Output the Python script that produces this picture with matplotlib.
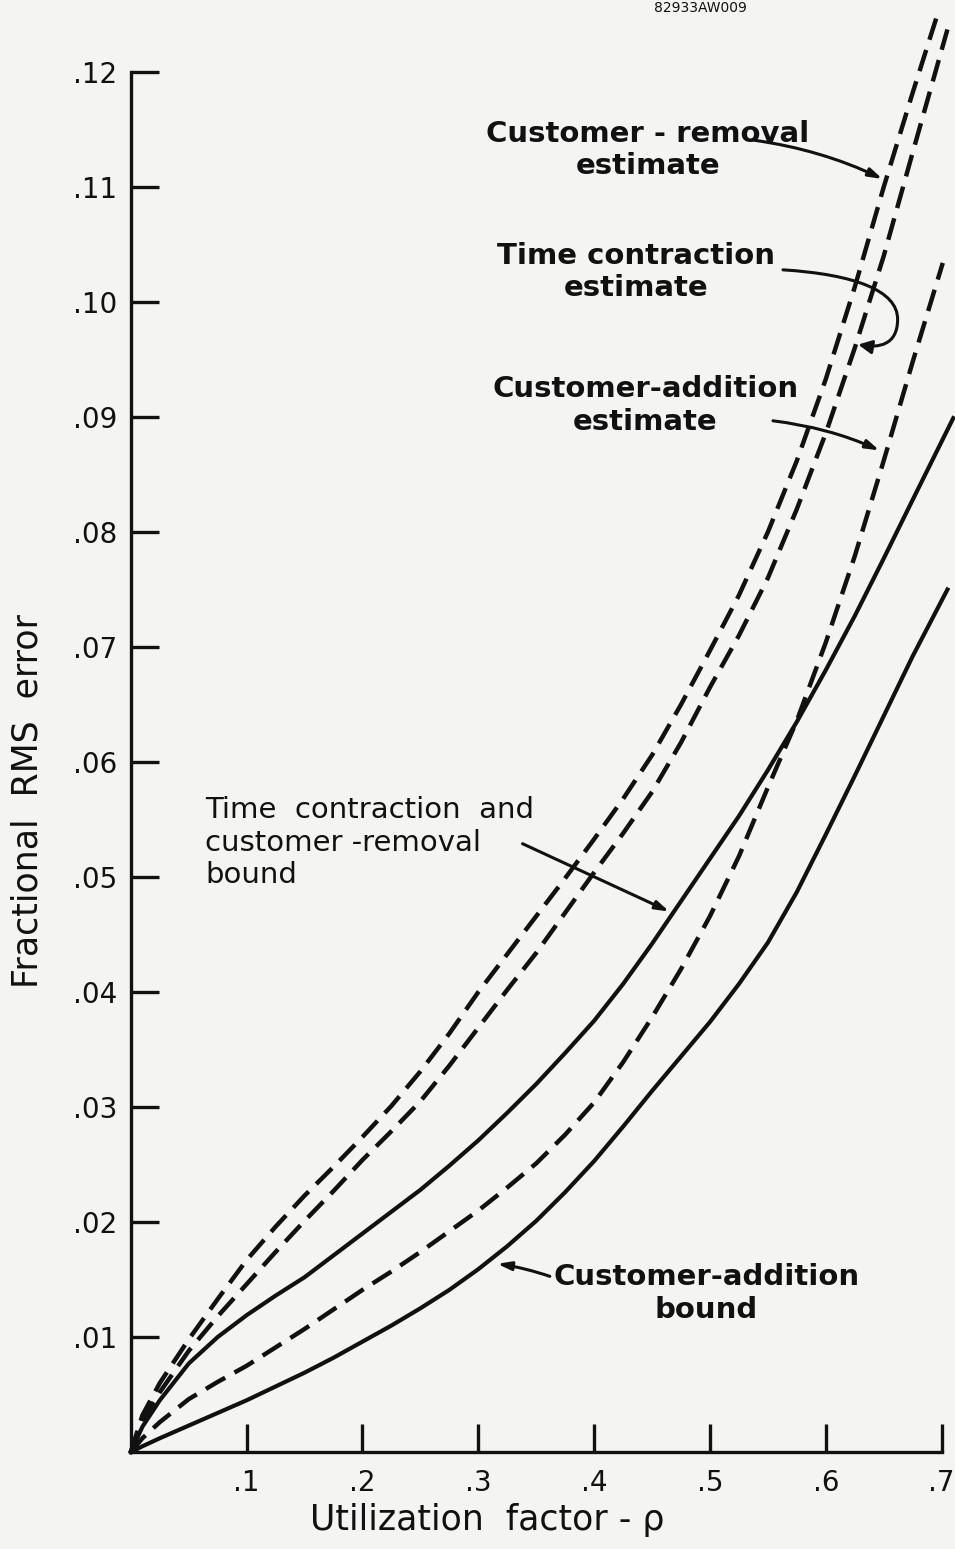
import matplotlib
matplotlib.use("Agg")
import matplotlib.pyplot as plt
from matplotlib.path import Path
from matplotlib.patches import FancyArrowPatch

plt.rcParams['font.family'] = ['DejaVu Sans']

# ---- data ----
# Customer-removal estimate (dashed)
cre_x = [0, 0.01, 0.025, 0.05, 0.075, 0.1, 0.125, 0.15, 0.175, 0.2, 0.225, 0.25, 0.275, 0.3, 0.325,
         0.35, 0.375, 0.4, 0.425, 0.45, 0.475, 0.5, 0.525, 0.55, 0.575, 0.6, 0.625, 0.65, 0.675, 0.697]
cre_y = [0, 0.0032, 0.0060, 0.0098, 0.0133, 0.0167, 0.0196, 0.0223, 0.0248, 0.0274, 0.0301, 0.0331,
         0.0364, 0.0400, 0.0433, 0.0466, 0.0499, 0.0533, 0.0568, 0.0606, 0.0650, 0.0697, 0.0745, 0.0800,
         0.0862, 0.0933, 0.1013, 0.1100, 0.1182, 0.1252]

# Time contraction estimate (dashed)
tce_x = [0, 0.01, 0.025, 0.05, 0.075, 0.1, 0.125, 0.15, 0.175, 0.2, 0.225, 0.25, 0.275, 0.3, 0.325,
         0.35, 0.375, 0.4, 0.425, 0.45, 0.475, 0.5, 0.525, 0.55, 0.575, 0.6, 0.625, 0.65, 0.675, 0.705]
tce_y = [0, 0.0027, 0.0052, 0.0088, 0.0118, 0.0146, 0.0174, 0.0201, 0.0227, 0.0254, 0.0279, 0.0305,
         0.0336, 0.0369, 0.0402, 0.0434, 0.0469, 0.0504, 0.0538, 0.0574, 0.0617, 0.0665, 0.0710, 0.0760,
         0.0820, 0.0886, 0.0960, 0.1040, 0.1130, 0.1237]

# Customer-addition estimate (dashed)
cae_x = [0, 0.01, 0.025, 0.05, 0.075, 0.1, 0.125, 0.15, 0.175, 0.2, 0.225, 0.25, 0.275, 0.3, 0.325,
         0.35, 0.375, 0.4, 0.425, 0.45, 0.475, 0.5, 0.525, 0.55, 0.575, 0.6, 0.625, 0.65, 0.675, 0.701]
cae_y = [0, 0.0012, 0.0026, 0.0046, 0.0061, 0.0075, 0.0091, 0.0107, 0.0124, 0.0141, 0.0157, 0.0174,
         0.0192, 0.0210, 0.0230, 0.0251, 0.0276, 0.0304, 0.0339, 0.0378, 0.0420, 0.0466, 0.0518, 0.0578,
         0.0636, 0.0704, 0.0779, 0.0862, 0.0948, 0.1034]

# Time contraction and customer-removal bound (solid)
tcb_x = [0, 0.01, 0.025, 0.05, 0.075, 0.1, 0.125, 0.15, 0.175, 0.2, 0.225, 0.25, 0.275, 0.3, 0.325,
         0.35, 0.375, 0.4, 0.425, 0.45, 0.475, 0.5, 0.525, 0.55, 0.575, 0.6, 0.625, 0.65, 0.675, 0.71]
tcb_y = [0, 0.0022, 0.0045, 0.0077, 0.0100, 0.0119, 0.0136, 0.0152, 0.0171, 0.0190, 0.0209, 0.0228,
         0.0249, 0.0271, 0.0295, 0.0320, 0.0347, 0.0375, 0.0407, 0.0442, 0.0479, 0.0516, 0.0553, 0.0593,
         0.0635, 0.0680, 0.0727, 0.0777, 0.0828, 0.0899]

# Customer-addition bound (solid)
cab_x = [0, 0.01, 0.025, 0.05, 0.075, 0.1, 0.125, 0.15, 0.175, 0.2, 0.225, 0.25, 0.275, 0.3, 0.325,
         0.35, 0.375, 0.4, 0.425, 0.45, 0.475, 0.5, 0.525, 0.55, 0.575, 0.6, 0.625, 0.65, 0.675, 0.705]
cab_y = [0, 0.0005, 0.0012, 0.0023, 0.0034, 0.0045, 0.0057, 0.0069, 0.0082, 0.0096, 0.0110, 0.0125,
         0.0141, 0.0159, 0.0179, 0.0201, 0.0226, 0.0253, 0.0283, 0.0314, 0.0344, 0.0374, 0.0407, 0.0443,
         0.0487, 0.0537, 0.0588, 0.0640, 0.0692, 0.0750]

x_ticks = [0.1, 0.2, 0.3, 0.4, 0.5, 0.6, 0.7]
x_ticklabels = ['.1', '.2', '.3', '.4', '.5', '.6', '.7']
y_ticks = [0.01, 0.02, 0.03, 0.04, 0.05, 0.06, 0.07, 0.08, 0.09, 0.10, 0.11, 0.12]
y_ticklabels = ['.01', '.02', '.03', '.04', '.05', '.06', '.07', '.08', '.09', '.10', '.11', '.12']

bg = '#f4f4f2'
ink = '#111111'

fig = plt.figure(figsize=(9.55, 15.49), dpi=100, facecolor=bg)
ax = fig.add_axes([0.137, 0.0626, 0.849, 0.8909])
ax.set_facecolor(bg)

dash = (5, 2.4)
lw = 3.2
ax.plot(cre_x, cre_y, color=ink, lw=lw, dashes=dash, clip_on=False)
ax.plot(tce_x, tce_y, color=ink, lw=lw, dashes=dash, clip_on=False)
ax.plot(cae_x, cae_y, color=ink, lw=lw, dashes=dash, clip_on=False)
ax.plot(tcb_x, tcb_y, color=ink, lw=3.0, clip_on=False)
ax.plot(cab_x, cab_y, color=ink, lw=3.0, clip_on=False)

ax.set_xlim(0, 0.7)
ax.set_ylim(0, 0.12)
for s in ['top', 'right']:
    ax.spines[s].set_visible(False)
for s in ['left', 'bottom']:
    ax.spines[s].set_linewidth(2.4)
    ax.spines[s].set_color(ink)

ax.set_xticks(x_ticks)
ax.set_xticklabels(x_ticklabels)
ax.set_yticks(y_ticks)
ax.set_yticklabels(y_ticklabels)
ax.tick_params(axis='both', direction='in', length=20, width=2.4, colors=ink, labelsize=20)
ax.tick_params(axis='y', pad=10)
ax.tick_params(axis='x', pad=12)

ax.set_xlabel('Utilization  factor - ρ', fontsize=25, color=ink)
ax.xaxis.set_label_coords(0.439, -0.037)
ax.set_ylabel('Fractional  RMS  error', fontsize=25, color=ink)
ax.yaxis.set_label_coords(-0.106, 0.472)

tk = dict(fontsize=21, color=ink, fontweight='bold')
ax.text(0.4465, 0.1132, 'Customer - removal\nestimate', ha='center', va='center', **tk)
ax.text(0.436, 0.1026, 'Time contraction\nestimate', ha='center', va='center', **tk)
ax.text(0.444, 0.0910, 'Customer-addition\nestimate', ha='center', va='center', **tk)
ax.text(0.064, 0.0530, 'Time  contraction  and\ncustomer -removal\nbound', ha='left', va='center',
        fontsize=21, color=ink)
ax.text(0.497, 0.0138, 'Customer-addition\nbound', ha='center', va='center', **tk)

ap = dict(arrowstyle='-|>,head_length=0.8,head_width=0.25', color=ink, lw=2.2)
ax.annotate('', xy=(0.651, 0.1106), xytext=(0.536, 0.1141),
            arrowprops=dict(connectionstyle='arc3,rad=-0.08', **ap))
ax.annotate('', xy=(0.6485, 0.0870), xytext=(0.552, 0.0897),
            arrowprops=dict(connectionstyle='arc3,rad=-0.08', **ap))
ax.annotate('', xy=(0.467, 0.0469), xytext=(0.336, 0.0530),
            arrowprops=dict(connectionstyle='arc3,rad=0', **ap))
ax.annotate('', xy=(0.314, 0.0164), xytext=(0.364, 0.0152),
            arrowprops=dict(connectionstyle='arc3,rad=0.05', **ap))

loop = Path([(0.563, 0.1028), (0.625, 0.1024), (0.662, 0.1010), (0.662, 0.0985),
             (0.662, 0.0962), (0.645, 0.0960), (0.628, 0.0963)],
            [Path.MOVETO, Path.CURVE4, Path.CURVE4, Path.CURVE4,
             Path.CURVE4, Path.CURVE4, Path.CURVE4])
arr = FancyArrowPatch(path=loop, transform=ax.transData, arrowstyle='-|>,head_length=8,head_width=4',
                      color=ink, lw=2.2, clip_on=False)
ax.add_patch(arr)

fig.text(0.733, 0.9995, '82933AW009', ha='center', va='top', fontsize=10, color=ink)

fig.savefig('out.png', dpi=100, facecolor=bg)
